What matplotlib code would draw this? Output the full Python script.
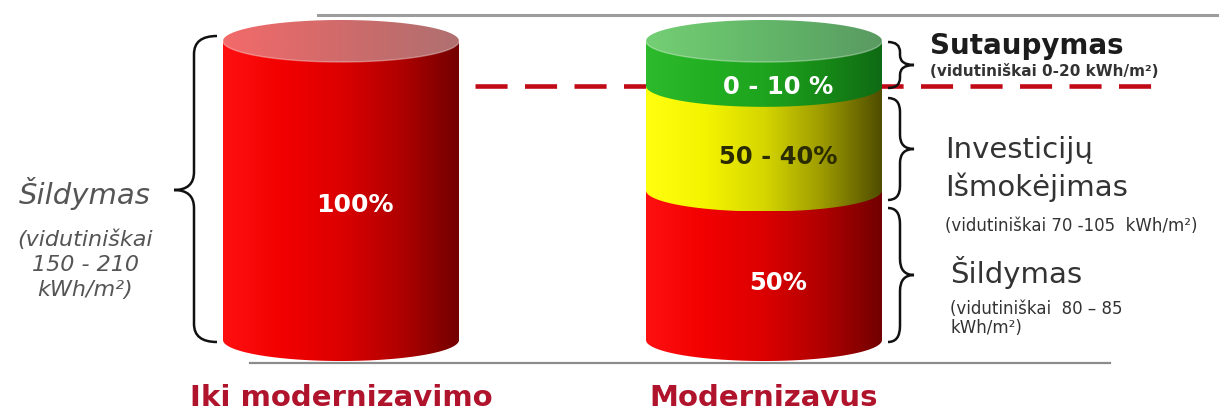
import numpy as np
import matplotlib
matplotlib.use("Agg")
import matplotlib.pyplot as plt
from matplotlib.colors import LinearSegmentedColormap
from matplotlib.patches import PathPatch
from matplotlib.path import Path
from matplotlib.transforms import Affine2D

plt.rcParams['font.family'] = ['DejaVu Sans']

# ---- data -------------------------------------------------------------
categories = ["Iki modernizavimo", "Modernizavus"]
segment_names = ["Šildymas", "Investicijų išmokėjimas", "Sutaupymas"]
before_values = [100]            # heating share before renovation, %
after_values = [50, 35, 15]      # heating / loan repayment / savings, %
segment_labels = ["50%", "50 - 40%", "0 - 10 %"]
before_label = "100%"

# ---- layout -----------------------------------------------------------
W, H = 1226, 415
fig = plt.figure(figsize=(W / 100, H / 100), dpi=100)
fig.patch.set_facecolor("white")
ax = fig.add_axes([0, 0, 1, 1])
ax.axis("off")

CENTER0_PX, STEP_PX = 341, 423        # pixel x of first column, column spacing
BASE_PX, UNIT_PX = 340, 2.99          # pixel y of value 0, pixels per percent
ax.set_xlim(-CENTER0_PX / STEP_PX, (W - CENTER0_PX) / STEP_PX)
ax.set_ylim(-(H - BASE_PX) / UNIT_PX, BASE_PX / UNIT_PX)

HALF_W = 118 / STEP_PX                # cylinder half width (x units)
ELL_H = 21 / UNIT_PX                  # ellipse half height (y units)

# pixel coordinates measured from the top-left corner
PX = Affine2D().scale(1 / W, -1 / H).translate(0, 1) + fig.transFigure


def xpx(c):
    return CENTER0_PX + c * STEP_PX


def cmap_from(colors):
    return LinearSegmentedColormap.from_list("g", colors)


grad = np.linspace(0, 1, 256).reshape(1, -1)


def gradient_in(path, cmap, x0, x1, y0, y1, z):
    patch = PathPatch(path, transform=ax.transData, facecolor="none",
                      edgecolor="none")
    im = ax.imshow(grad, extent=[x0, x1, y0, y1], cmap=cmap, aspect="auto",
                   interpolation="bicubic", zorder=z)
    im.set_clip_path(patch)


def body_segment(c, v0, v1, cmap, z):
    t = np.linspace(np.pi, 2 * np.pi, 120)
    xs = np.concatenate([[c - HALF_W], c + HALF_W * np.cos(t), [c + HALF_W]])
    ys = np.concatenate([[v1], v0 + ELL_H * np.sin(t), [v1]])
    verts = np.column_stack([xs, ys])
    path = Path(np.vstack([verts, verts[:1]]), closed=True)
    gradient_in(path, cmap, c - HALF_W, c + HALF_W, v0 - ELL_H, v1, z)


def top_cap(c, v, cmap, z):
    t = np.linspace(0, 2 * np.pi, 200)
    verts = np.column_stack([c + HALF_W * np.cos(t), v + ELL_H * np.sin(t)])
    path = Path(verts, closed=True)
    gradient_in(path, cmap, c - HALF_W, c + HALF_W, v - ELL_H, v + ELL_H, z)
    # thin light rim along the front edge of the lid
    t2 = np.linspace(np.pi, 2 * np.pi, 120)
    ax.plot(c + HALF_W * np.cos(t2), v + ELL_H * np.sin(t2), color="white",
            alpha=0.35, lw=1.0, zorder=z + 0.1)


red_body = cmap_from(["#ff1010", "#f20000", "#dc0000", "#b00000", "#720000"])
red_top = cmap_from(["#f36a6a", "#dc6a6a", "#c46c6c", "#b07070"])
yellow_body = cmap_from(["#ffff10", "#f4f400", "#d6d600", "#9c9a00", "#504d00"])
green_body = cmap_from(["#2dbb2d", "#22b022", "#1ea41e", "#178a17", "#0f6a14"])
green_top = cmap_from(["#74cf74", "#68bf6c", "#5fae66", "#5a9a62"])
body_maps = [red_body, yellow_body, green_body]

# frame lines above and below the columns
ax.add_line(plt.Line2D([318, 1217], [15, 15], transform=PX, color="#9c9c9c",
                       lw=2.2, zorder=1))
ax.add_line(plt.Line2D([250, 1110], [363, 363], transform=PX, color="#8c8c8c",
                       lw=1.6, zorder=1))

# dashed level of the renovated consumption
level = after_values[0] + after_values[1]
dash_x0 = (475 - CENTER0_PX) / STEP_PX
dash_x1 = (1160 - CENTER0_PX) / STEP_PX
ax.plot([dash_x0, dash_x1], [level, level], color="#c00a16", lw=3.3,
        ls=(0, (7, 3.8)), dash_capstyle="butt", zorder=2)

# column before renovation
body_segment(0, 0, before_values[0], red_body, 3)
top_cap(0, before_values[0], red_top, 4)

# column after renovation, stacked from the bottom
bottom = 0
for i, v in enumerate(after_values):
    body_segment(1, bottom, bottom + v, body_maps[i], 3 + i * 0.2)
    bottom += v
top_cap(1, bottom, green_top, 4)

# value labels on the columns
LABEL_DX = 14
ax.text(xpx(0) + LABEL_DX, 205, before_label, transform=PX, ha="center",
        va="center", color="white", fontsize=18, fontweight="bold", zorder=6)
label_colors = ["white", "#2b2b00", "white"]
label_y = [283, 157, 87]
for lab, col, yy in zip(segment_labels, label_colors, label_y):
    ax.text(xpx(1) + LABEL_DX, yy, lab, transform=PX, ha="center",
            va="center", color=col, fontsize=17.5, fontweight="bold", zorder=6)


# curly braces
def brace(x_end, x_spine, x_tip, y_top, y_bot, y_mid, r=14):
    verts = [(x_end, y_top), (x_spine, y_top), (x_spine, y_top + r),
             (x_spine, y_mid - r), (x_spine, y_mid), (x_tip, y_mid),
             (x_spine, y_mid), (x_spine, y_mid + r),
             (x_spine, y_bot - r), (x_spine, y_bot), (x_end, y_bot)]
    codes = [Path.MOVETO, Path.CURVE3, Path.CURVE3,
             Path.LINETO, Path.CURVE3, Path.CURVE3,
             Path.CURVE3, Path.CURVE3,
             Path.LINETO, Path.CURVE3, Path.CURVE3]
    ax.add_patch(PathPatch(Path(verts, codes), transform=PX, fill=False,
                           edgecolor="#111111", lw=1.8, zorder=5))


brace(217, 194, 174, 36, 342, 190, r=18)
brace(888, 900, 914, 42, 88, 65, r=10)
brace(888, 900, 914, 98, 200, 149, r=14)
brace(888, 900, 914, 208, 342, 275, r=16)

# left annotation
gray = "#555555"
ax.text(85, 193, "Šildymas", transform=PX, ha="center", va="center",
        style="italic", fontsize=21, color=gray)
for yy, s in zip([240, 265, 290], ["(vidutiniškai", "150 - 210", "kWh/m²)"]):
    ax.text(85, yy, s, transform=PX, ha="center", va="center",
            style="italic", fontsize=16, color=gray)

# right annotations
dark = "#333333"
ax.text(930, 46, "Sutaupymas", transform=PX, ha="left", va="center",
        fontsize=20, fontweight="bold", color="#1c1c1c")
ax.text(930, 71, "(vidutiniškai 0-20 kWh/m²)", transform=PX, ha="left",
        va="center", fontsize=11, fontweight="bold", color=dark)
ax.text(945, 150, "Investicijų", transform=PX, ha="left", va="center",
        fontsize=21, color=dark)
ax.text(945, 187, "Išmokėjimas", transform=PX, ha="left", va="center",
        fontsize=21, color=dark)
ax.text(945, 226, "(vidutiniškai 70 -105  kWh/m²)", transform=PX, ha="left",
        va="center", fontsize=12, color=dark)
ax.text(950, 272, "Šildymas", transform=PX, ha="left", va="center",
        fontsize=21, color=dark)
ax.text(950, 309, "(vidutiniškai  80 – 85", transform=PX, ha="left",
        va="center", fontsize=12, color=dark)
ax.text(950, 328, "kWh/m²)", transform=PX, ha="left", va="center",
        fontsize=12, color=dark)

# column captions
for i, name in enumerate(categories):
    ax.text(xpx(i), 398, name, transform=PX, ha="center", va="center",
            fontsize=21, fontweight="bold", color="#b0142c")

fig.savefig("out.png", dpi=100, facecolor="white")
